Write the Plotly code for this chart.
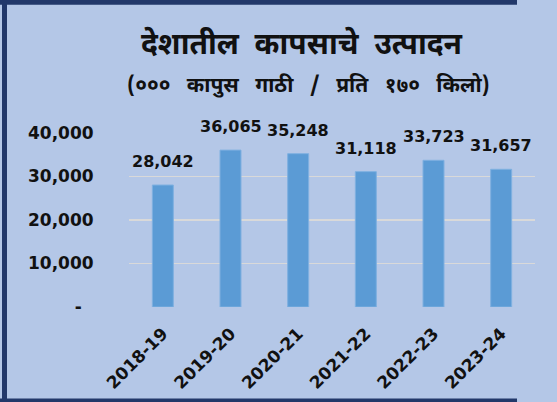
import plotly.graph_objects as go

categories = ["2018-19", "2019-20", "2020-21", "2021-22", "2022-23", "2023-24"]
production = [28042, 36065, 35248, 31118, 33723, 31657]
y_tickvals = [0, 10000, 20000, 30000, 40000]
y_ticktext = ["-\u00a0\u00a0", "10,000", "20,000", "30,000", "40,000"]
title_words = ["देशातील", "कापसाचे", "उत्पादन"]
subtitle_words = ["(०००", "कापुस", "गाठी", "/", "प्रति", "१७०", "किलो)"]

W, H = 557, 402
L, R, T, B = 129, 22, 133, 95
PW, PH = W - L - R, H - T - B

def px_x(p):
    return (p - L) / PW

def px_y(p):
    return (H - B - p) / PH

FONT = "DejaVu Sans, Verdana, sans-serif"
DEVA = "Noto Sans Devanagari, Lohit Devanagari, Mangal, Noto Sans, sans-serif"
BORDER = "#22386A"

fig = go.Figure(go.Bar(
    x=categories, y=production,
    marker=dict(color="#5B9BD5", line=dict(color="#7FB0E0", width=1)),
    width=0.31,
    hoverinfo="skip",
))

annotations = []
for c, v in zip(categories, production):
    annotations.append(dict(
        x=c, y=v, xref="x", yref="y", text=f"<b>{v:,}</b>", showarrow=False,
        yanchor="bottom", yshift=12, font=dict(family=FONT, size=16, color="#111111"),
    ))
annotations.append(dict(
    x=px_x(302), y=px_y(46), xref="paper", yref="paper",
    text="<b>" + "\u00a0\u00a0".join(title_words) + "</b>",
    showarrow=False, xanchor="center", yanchor="middle",
    font=dict(family=DEVA, size=30, color="#111111"),
))
annotations.append(dict(
    x=px_x(308), y=px_y(87), xref="paper", yref="paper",
    text="<b>" + "\u00a0\u00a0\u00a0".join(subtitle_words) + "</b>",
    showarrow=False, xanchor="center", yanchor="middle",
    font=dict(family=DEVA, size=21, color="#111111"),
))

border_lines = [
    dict(x0=px_x(0), x1=px_x(W - 40), y0=px_y(2.3), y1=px_y(2.3), w=5),
    dict(x0=px_x(4.5), x1=px_x(4.5), y0=px_y(0), y1=px_y(H), w=5),
    dict(x0=px_x(0), x1=px_x(W - 40), y0=px_y(400.5), y1=px_y(400.5), w=4),
]
shapes = [dict(type="line", xref="paper", yref="paper", layer="above",
               x0=b["x0"], x1=b["x1"], y0=b["y0"], y1=b["y1"],
               line=dict(color=BORDER, width=b["w"])) for b in border_lines]

fig.update_layout(
    width=W, height=H,
    margin=dict(l=L, r=R, t=T, b=B, pad=0, autoexpand=False),
    paper_bgcolor="#B4C7E7", plot_bgcolor="#B4C7E7",
    showlegend=False,
    annotations=annotations,
    shapes=shapes,
    xaxis=dict(
        automargin=False,
        tickangle=-45, showgrid=False, zeroline=False, showline=False,
        ticks="outside", ticklen=9, tickcolor="rgba(0,0,0,0)",
        tickfont=dict(family=FONT, size=17, color="#111111", weight="bold"),
    ),
    yaxis=dict(
        automargin=False,
        range=[0, 40000], tickvals=y_tickvals, ticktext=y_ticktext,
        showgrid=True, gridcolor="#D9D9D9", gridwidth=1.5, zeroline=False,
        showline=False, ticks="outside", ticklen=31, tickcolor="rgba(0,0,0,0)",
        tickfont=dict(family=FONT, size=17, color="#111111", weight="bold"),
    ),
)

fig.write_html(
    "out.html",
    config={"displayModeBar": False, "staticPlot": True},
    post_script=(
        "document.documentElement.style.overflow='hidden';"
        "document.body.style.margin='0';document.body.style.overflow='hidden';"
        "document.body.style.background='#B4C7E7';"
    ),
)
